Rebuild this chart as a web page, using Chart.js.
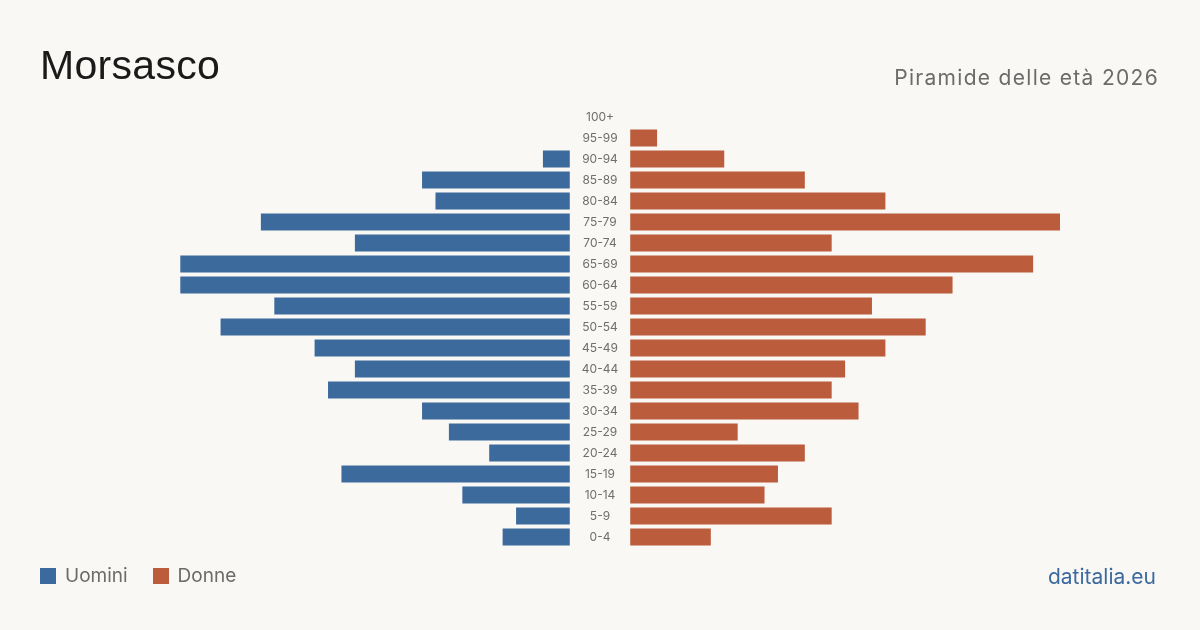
<!DOCTYPE html>
<html lang="it">
<head>
<meta charset="utf-8">
<title>Morsasco - Piramide delle età 2026</title>
<script src="https://cdn.jsdelivr.net/npm/chart.js@4.4.1/dist/chart.umd.min.js"></script>
<style>
    html, body { margin: 0; padding: 0; }
    body { width: 1200px; height: 630px; background: #f9f8f4; position: relative; overflow: hidden; font-family: Inter, "Noto Sans", sans-serif; }
    #chart-wrap { position: absolute; left: 0; top: 0; width: 1200px; height: 630px; }
    .title { position: absolute; left: 40px; top: 45px; font-family: "Liberation Sans", Arial, sans-serif; font-size: 41px; line-height: 1; color: #1a1a1a; letter-spacing: 0.3px; }
    .subtitle { position: absolute; right: 41px; top: 67px; font-size: 21px; line-height: 1; color: #6b6b6b; letter-spacing: 1.3px; }
    .legend { position: absolute; left: 40px; top: 566px; display: flex; align-items: center; font-size: 19px; line-height: 1; color: #6b6b6b; }
    .legend .sw { width: 16px; height: 16px; margin-right: 9px; }
    .legend .item { display: flex; align-items: center; margin-right: 25px; }
    .source { position: absolute; right: 44px; top: 566px; font-size: 21px; line-height: 1; color: #3d6a9e; }
</style>
</head>
<body>
<div id="chart-wrap"><canvas id="pyramid" width="1200" height="630"></canvas></div>
<div class="title">Morsasco</div>
<div class="subtitle">Piramide delle età 2026</div>
<div class="legend">
    <div class="item"><div class="sw" style="background:#3d6a9c"></div>Uomini</div>
    <div class="item"><div class="sw" style="background:#bb5d3c"></div>Donne</div>
</div>
<div class="source">datitalia.eu</div>

<script>
// age classes, top to bottom
const ageGroups = ["100+", "95-99", "90-94", "85-89", "80-84", "75-79", "70-74", "65-69", "60-64", "55-59",
    "50-54", "45-49", "40-44", "35-39", "30-34", "25-29", "20-24", "15-19", "10-14", "5-9", "0-4"];
const men   = [0, 0, 2, 11, 10, 23, 16, 29, 29, 22, 26, 19, 16, 18, 11, 9, 6, 17, 8, 4, 5];
const women = [0, 2, 7, 13, 19, 32, 15, 30, 24, 18, 22, 19, 16, 15, 17, 8, 13, 11, 10, 15, 6];

const GAP = 2.25;     // half of the empty band for the age labels, in data units
const MAX = 32;

// age labels in the middle band, placed with the chart's own scales
const centerLabels = {
    id: "centerLabels",
    afterDatasetsDraw(chart) {
        const { ctx, scales: { x, y } } = chart;
        const cx = x.getPixelForValue(0);
        ctx.save();
        ctx.font = "12px Inter, 'Noto Sans', sans-serif";
        ctx.fillStyle = "#6e6e6e";
        ctx.textAlign = "center";
        ctx.textBaseline = "middle";
        ageGroups.forEach((label, i) => {
            ctx.fillText(label, cx, y.getPixelForTick(i));
        });
        ctx.restore();
    }
};

const ctx = document.getElementById("pyramid").getContext("2d");
new Chart(ctx, {
    type: "bar",
    data: {
        labels: ageGroups,
        datasets: [
            {
                label: "Uomini",
                data: men.map(v => [-GAP - v, -GAP]),
                backgroundColor: "#3d6a9c",
                grouped: false
            },
            {
                label: "Donne",
                data: women.map(v => [GAP, GAP + v]),
                backgroundColor: "#bb5d3c",
                grouped: false
            }
        ]
    },
    options: {
        indexAxis: "y",
        responsive: false,
        animation: false,
        layout: { padding: { left: 140, right: 140, top: 106.5, bottom: 82.5 } },
        datasets: { bar: { categoryPercentage: 1, barPercentage: 17 / 21 } },
        plugins: { legend: { display: false }, tooltip: { enabled: false } },
        scales: {
            x: { display: false, min: -(MAX + GAP), max: MAX + GAP },
            y: { display: false }
        }
    },
    plugins: [centerLabels]
});
</script>
</body>
</html>
